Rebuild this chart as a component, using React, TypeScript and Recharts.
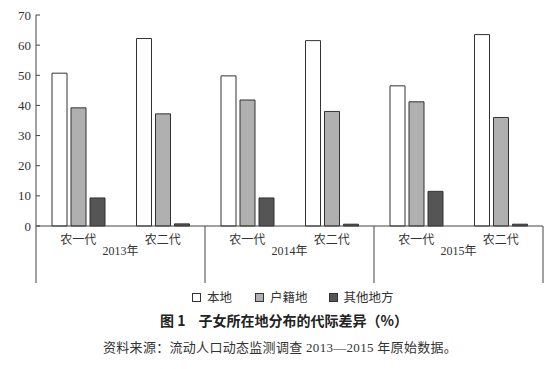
import { BarChart, Bar, XAxis, YAxis } from 'recharts';

const generations = ['农一代', '农二代', '农一代', '农二代', '农一代', '农二代'];
const years = ['2013年', '2013年', '2014年', '2014年', '2015年', '2015年'];
const localShare = [50.7, 62.2, 49.8, 61.5, 46.5, 63.5];
const hukouShare = [39.2, 37.2, 41.8, 38.0, 41.2, 36.0];
const otherShare = [9.3, 0.7, 9.3, 0.6, 11.5, 0.6];
const yTicks = [0, 10, 20, 30, 40, 50, 60, 70];

const chartData = generations.map((gen, i) => ({
  gen,
  year: years[i],
  local: localShare[i],
  hukou: hukouShare[i],
  other: otherShare[i],
}));

const FONT = "'Liberation Serif', 'Noto Sans CJK SC', serif";
const CJK = "'Noto Sans CJK SC', sans-serif";
const W = 546;
const H = 290;
const MARGIN = { top: 15, right: 3, bottom: 0, left: 0 };
const AXIS_X = 36;
const ZERO_Y = 226;
const BAND = (W - AXIS_X - MARGIN.right) / generations.length;

const YTick = (props: any) => {
  const { y, payload } = props;
  return (
    <g>
      <line x1={AXIS_X} x2={AXIS_X + 4} y1={y} y2={y} stroke="#444" />
      <text x={AXIS_X - 5} y={y} dy="0.35em" textAnchor="end" fontSize={13} fill="#333" fontFamily={FONT}>
        {payload.value}
      </text>
    </g>
  );
};

// year row under the generation labels, with the group dividers
const YearTick = (props: any) => {
  const { x, index, payload } = props;
  const left = x - BAND / 2;
  return (
    <g>
      {index % 2 === 0 && (
        <>
          <line x1={left} x2={left} y1={ZERO_Y} y2={283} stroke="#444" />
          <text x={x + BAND / 2} y={251} dy="0.35em" textAnchor="middle" fontSize={12} fill="#333" fontFamily={FONT}>
            {payload.value}
          </text>
        </>
      )}
      {index === generations.length - 1 && (
        <line x1={x + BAND / 2} x2={x + BAND / 2} y1={ZERO_Y} y2={283} stroke="#444" />
      )}
    </g>
  );
};

const legendItems = [
  { name: '本地', color: '#ffffff', gap: 23 },
  { name: '户籍地', color: '#b0b0b0', gap: 21 },
  { name: '其他地方', color: '#555555', gap: 0 },
];

export default function App() {
  return (
    <div style={{ position: 'absolute', left: 0, top: 0, width: W, height: 369, background: '#fff' }}>
      <BarChart width={W} height={H} data={chartData} margin={MARGIN} barSize={15} barGap={4}>
        <XAxis
          dataKey="gen"
          height={16}
          axisLine={{ stroke: '#444' }}
          tickLine={false}
          tickMargin={3}
          interval={0}
          tick={{ fontSize: 12, fill: '#333', fontFamily: FONT }}
        />
        <XAxis
          xAxisId="year"
          dataKey="year"
          height={48}
          axisLine={false}
          tickLine={false}
          interval={0}
          tick={<YearTick />}
        />
        <YAxis
          width={AXIS_X}
          domain={[0, 70]}
          ticks={yTicks}
          axisLine={{ stroke: '#444' }}
          tickLine={false}
          tick={<YTick />}
        />
        <Bar dataKey="local" name="本地" fill="#ffffff" stroke="#333" isAnimationActive={false} />
        <Bar dataKey="hukou" name="户籍地" fill="#b0b0b0" stroke="#333" isAnimationActive={false} />
        <Bar dataKey="other" name="其他地方" fill="#555555" stroke="#333" isAnimationActive={false} />
      </BarChart>
      <div
        style={{
          position: 'absolute',
          left: 192,
          top: 289,
          display: 'flex',
          alignItems: 'center',
          fontFamily: CJK,
          fontSize: 12.5,
          color: '#333',
          lineHeight: '16px',
        }}
      >
        {legendItems.map((item) => (
          <div key={item.name} style={{ display: 'flex', alignItems: 'center', marginRight: item.gap }}>
            <span
              style={{
                display: 'inline-block',
                width: 7,
                height: 7,
                border: '1px solid #333',
                background: item.color,
                marginRight: 6,
              }}
            />
            <span>{item.name}</span>
          </div>
        ))}
      </div>
      <div
        style={{
          position: 'absolute',
          left: 160,
          top: 311,
          fontFamily: CJK,
          fontSize: 14,
          fontWeight: 'bold',
          color: '#222',
          lineHeight: '18px',
          whiteSpace: 'pre',
        }}
      >
        <span>图 1</span>
        <span style={{ marginLeft: 13 }}>子女所在地分布的代际差异（%）</span>
      </div>
      <div
        style={{
          position: 'absolute',
          left: 103,
          top: 340,
          fontFamily: FONT,
          fontSize: 13,
          color: '#333',
          lineHeight: '16px',
          letterSpacing: 0.3,
          whiteSpace: 'pre',
        }}
      >
        {'资料来源：流动人口动态监测调查 2013—2015 年原始数据。'}
      </div>
    </div>
  );
}
